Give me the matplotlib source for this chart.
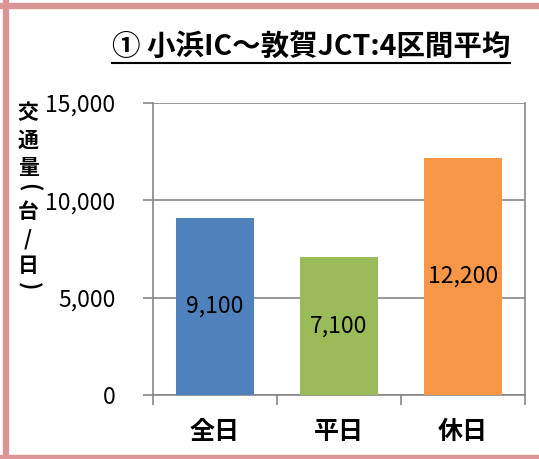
import matplotlib
matplotlib.use("Agg")
import matplotlib.pyplot as plt
from matplotlib.patches import Rectangle
from matplotlib.lines import Line2D

plt.rcParams['font.family'] = ['Noto Sans CJK JP', 'DejaVu Sans']

# données
categories = ['全日', '平日', '休日']
valeurs = [9100, 7100, 12200]
couleurs = ['#4F81BD', '#9BBB59', '#F79646']
titre = '① 小浜IC～敦賀JCT:4区間平均'
label_y = ['交', '通', '量', '(', '台', '/', '日', ')']

W, H = 539, 459
fig = plt.figure(figsize=(W / 100, H / 100), dpi=100)
ax = fig.add_axes([153 / W, 1 - 395 / H, 372 / W, 292 / H])

x = range(len(categories))
barres = ax.bar(x, valeurs, width=0.63, color=couleurs, zorder=3)

for b, v in zip(barres, valeurs):
    ax.text(b.get_x() + b.get_width() / 2, v / 2, f'{v:,}', ha='center', va='center',
            fontsize=16.5, color='black', zorder=4)

ax.set_ylim(0, 15000)
ax.set_xlim(-0.5, 2.5)
ax.set_yticks([0, 5000, 10000, 15000])
ax.set_yticklabels([f'{t:,}' for t in [0, 5000, 10000, 15000]], fontsize=16.5)
ax.yaxis.grid(True, color='#868686', linewidth=1.2, zorder=0)

ax.set_xticks(list(x))
ax.set_xticklabels(categories, fontsize=18, fontweight='bold')
ax.tick_params(axis='x', length=0, pad=18)
ax.set_xticks([-0.5, 0.5, 1.5, 2.5], minor=True)
ax.tick_params(axis='x', which='minor', length=7, color='#868686', width=1.2)
ax.tick_params(axis='y', length=7, color='#868686', width=1.2, pad=20)

for s in ax.spines.values():
    s.set_color('#868686')
    s.set_linewidth(1.2)
ax.spines['top'].set_visible(False)

# label vertical, un caractère à la fois (parenthèses tournées)
y_px = 113
for c in label_y:
    if c in '()':
        y_px -= 7
        fig.text(28 / W, 1 - y_px / H, c, ha='center', va='center', fontsize=16,
                 fontweight='bold', rotation=-90, rotation_mode='anchor')
        y_px += 25
    else:
        fig.text(28 / W, 1 - y_px / H, c, ha='center', va='center', fontsize=15,
                 fontweight='bold')
        y_px += 27

# titre souligné
t = fig.text(311 / W, 1 - 47 / H, titre, ha='center', va='center', fontsize=20.5,
             fontweight='bold')
fig.canvas.draw()
bb = t.get_window_extent().transformed(fig.transFigure.inverted())
fig.add_artist(Line2D([bb.x0, bb.x1], [bb.y0 - 0.004, bb.y0 - 0.004], color='black',
                      linewidth=1.5, transform=fig.transFigure))

# cadre rose
rose = '#DA9694'
fig.add_artist(Rectangle((0.0, 0.0), 1.2, 4 / H, color=rose, transform=fig.transFigure))
fig.add_artist(Rectangle((0.0, 1 - 8 / H), 1.2, 5 / H, color=rose, transform=fig.transFigure))
fig.add_artist(Rectangle((3 / W, 0.0), 5 / W, 1.0, color=rose, transform=fig.transFigure))

fig.savefig('out.png', dpi=100)
